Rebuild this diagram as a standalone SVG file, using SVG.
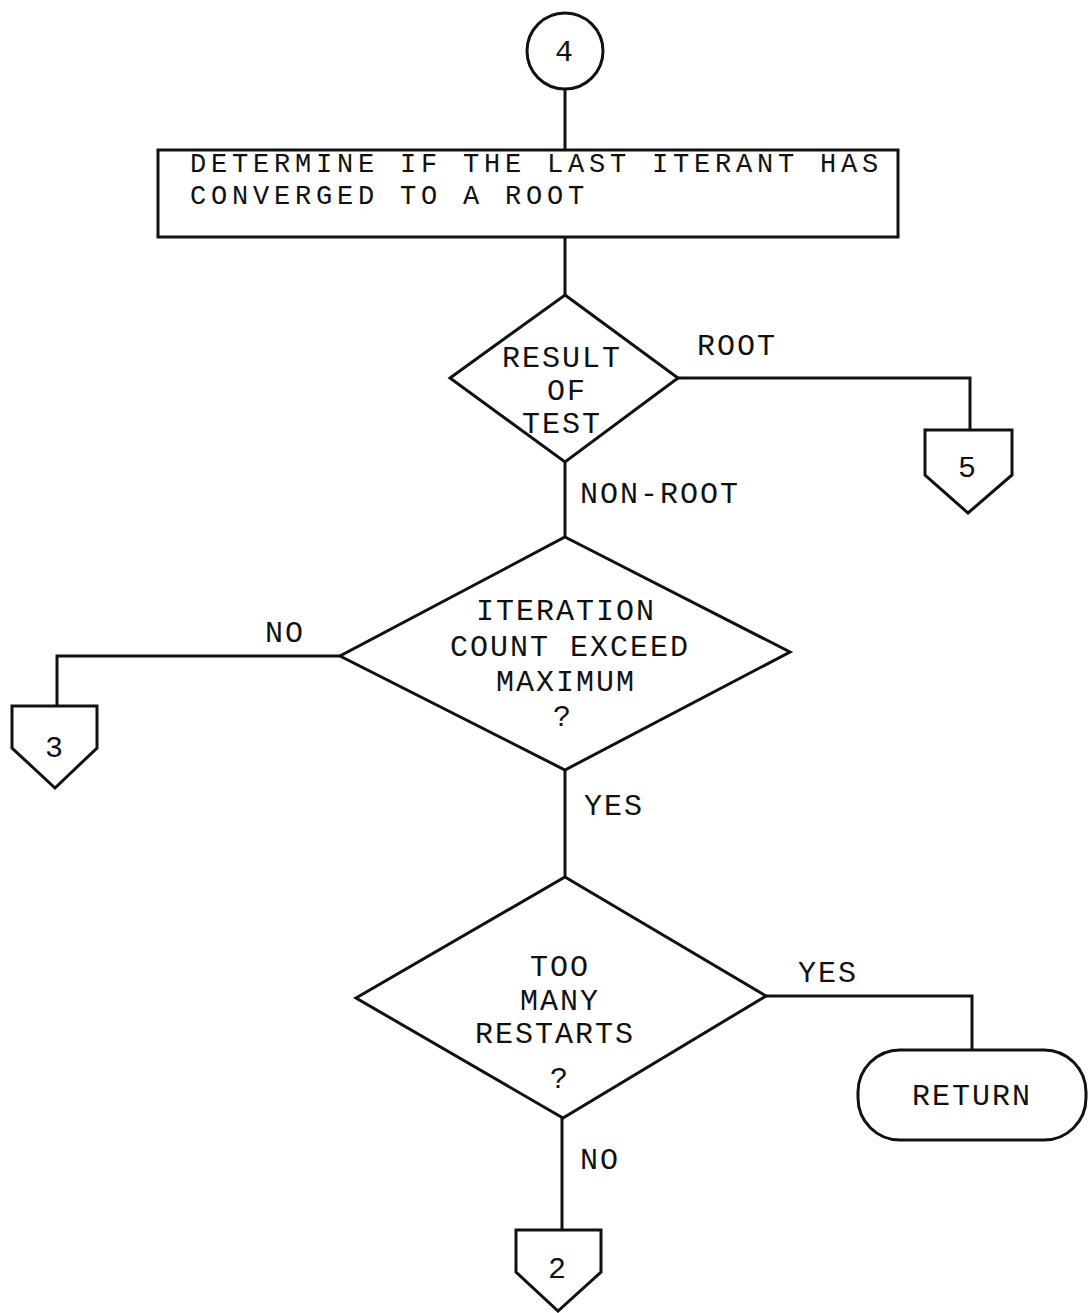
<svg xmlns="http://www.w3.org/2000/svg" width="1088" height="1313" viewBox="0 0 1088 1313">
<style>
.s{fill:none;stroke:#111;stroke-width:3;stroke-linejoin:miter}
.n{fill:#fff;stroke:#111;stroke-width:3}
.t{font-family:"Liberation Mono",monospace;font-size:30px;fill:#111;letter-spacing:2px;text-anchor:middle}
.l{text-anchor:start}
.b{font-size:27px;letter-spacing:4.8px}
</style>
<rect width="1088" height="1313" fill="#fff"/>
<g id="connectors">
<path class="s" d="M565,89 V150"/>
<path class="s" d="M565,237 V295"/>
<path class="s" d="M678,378 H970 V430"/>
<path class="s" d="M565,462 V537"/>
<path class="s" d="M340,656 H57 V706"/>
<path class="s" d="M565,770 V877"/>
<path class="s" d="M766,996 H972 V1050"/>
<path class="s" d="M562,1118 V1230"/>
<text class="t" x="737" y="355">ROOT</text>
<text class="t l" x="580" y="503">NON-ROOT</text>
<text class="t" x="285" y="642">NO</text>
<text class="t" x="614" y="815">YES</text>
<text class="t" x="828" y="982">YES</text>
<text class="t" x="600" y="1169">NO</text>
</g>
<g id="c4">
<circle class="n" cx="565" cy="51" r="38"/>
<text class="t" x="565" y="61">4</text>
</g>
<g id="determine">
<rect class="n" x="158" y="150" width="740" height="87"/>
<text class="t l b" x="190" y="172">DETERMINE IF THE LAST ITERANT HAS</text>
<text class="t l b" x="190" y="204">CONVERGED TO A ROOT</text>
</g>
<g id="result">
<polygon class="n" points="565,295 678,378 565,462 450,378"/>
<text class="t" x="562" y="367">RESULT</text>
<text class="t" x="567" y="400">OF</text>
<text class="t" x="562" y="433">TEST</text>
</g>
<g id="c5">
<path class="n" d="M925,430 H1012 V475 L968,513 L925,475 Z"/>
<text class="t" x="968" y="477">5</text>
</g>
<g id="iteration">
<polygon class="n" points="565,537 790,652 565,770 340,656"/>
<text class="t" x="566" y="620">ITERATION</text>
<text class="t" x="570" y="656">COUNT EXCEED</text>
<text class="t" x="566" y="691">MAXIMUM</text>
<text class="t" x="563" y="726">?</text>
</g>
<g id="c3">
<path class="n" d="M12,706 H97 V748 L55,788 L12,748 Z"/>
<text class="t" x="55" y="757">3</text>
</g>
<g id="restarts">
<polygon class="n" points="565,877 766,996 563,1118 356,998"/>
<text class="t" x="560" y="976">TOO</text>
<text class="t" x="560" y="1010">MANY</text>
<text class="t" x="555" y="1043">RESTARTS</text>
<text class="t" x="560" y="1088">?</text>
</g>
<g id="return">
<rect class="n" x="858" y="1050" width="228" height="90" rx="42" ry="42"/>
<text class="t" x="972" y="1105">RETURN</text>
</g>
<g id="c2">
<path class="n" d="M516,1230 H601 V1272 L558,1311 L516,1272 Z"/>
<text class="t" x="558" y="1278">2</text>
</g>
</svg>
